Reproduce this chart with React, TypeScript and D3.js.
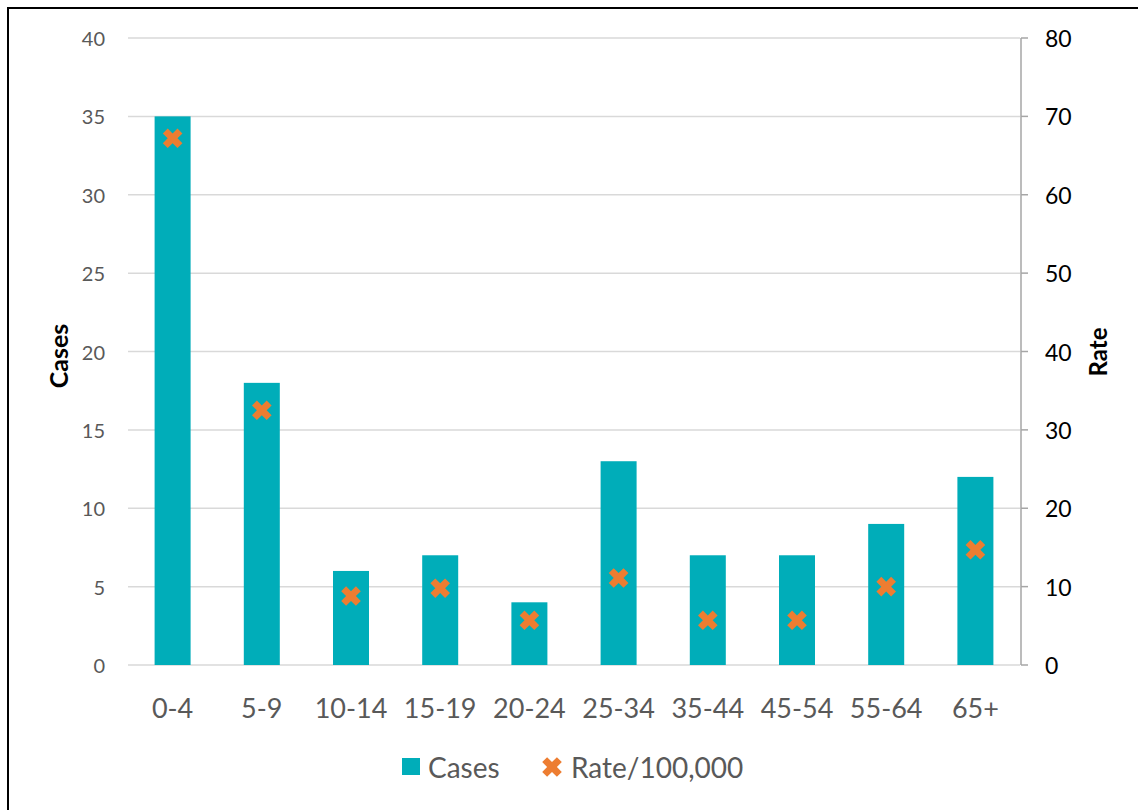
import React from "react";
import * as d3 from "d3";

const categories = ["0-4", "5-9", "10-14", "15-19", "20-24", "25-34", "35-44", "45-54", "55-64", "65+"];
const cases = [35, 18, 6, 7, 4, 13, 7, 7, 9, 12];
const rates = [67.2, 32.5, 8.8, 9.8, 5.7, 11.1, 5.7, 5.7, 10.0, 14.7];
const leftTicks = [0, 5, 10, 15, 20, 25, 30, 35, 40];
const rightTicks = [0, 10, 20, 30, 40, 50, 60, 70, 80];

const W = 1138;
const H = 810;
const plotL = 128;
const plotR = 1020;
const plotT = 38;
const plotB = 665;
const FONT = "Lato, 'Open Sans', sans-serif";
const TEAL = "#00ADB9";
const ORANGE = "#ED7D31";

export default function App() {
  const xc = d3.scaleBand<string>().domain(categories).range([plotL, plotR]);
  const yL = d3.scaleLinear().domain([0, 40]).range([plotB, plotT]);
  const yR = d3.scaleLinear().domain([0, 80]).range([plotB, plotT]);
  const marker = d3.symbol().type(d3.symbolCross).size(240)() as string;
  const bw = 36;

  return (
    <svg width={W} height={H} style={{ position: "absolute", left: 0, top: 0, background: "#fff" }}>
      <rect x={8} y={8} width={1300} height={1000} fill="#fff" stroke="#000" strokeWidth={2} />
      {leftTicks.map((t) => (
        <g key={"g" + t}>
          <line x1={plotL} x2={plotR} y1={yL(t)} y2={yL(t)} stroke="#d9d9d9" strokeWidth={1.5} />
          <text x={105} y={yL(t)} textAnchor="end" dominantBaseline="central" fontFamily={FONT} fontSize={20} fill="#595959">
            {t}
          </text>
        </g>
      ))}
      <line x1={1021} x2={1021} y1={plotT} y2={plotB} stroke="#a6a6a6" strokeWidth={1.5} />
      {rightTicks.map((t) => (
        <g key={"r" + t}>
          <line x1={1021} x2={1028} y1={yR(t)} y2={yR(t)} stroke="#a6a6a6" strokeWidth={1.5} />
          <text x={1045} y={yR(t)} textAnchor="start" dominantBaseline="central" fontFamily={FONT} fontSize={23} fill="#000">
            {t}
          </text>
        </g>
      ))}
      {categories.map((c, i) => {
        const cx = (xc(c) as number) + xc.bandwidth() / 2;
        return (
          <g key={c}>
            <rect x={cx - bw / 2} y={yL(cases[i])} width={bw} height={plotB - yL(cases[i])} fill={TEAL} />
            <text x={cx} y={707} textAnchor="middle" dominantBaseline="central" fontFamily={FONT} fontSize={27} fill="#595959">
              {c}
            </text>
          </g>
        );
      })}
      {categories.map((c, i) => {
        const cx = (xc(c) as number) + xc.bandwidth() / 2;
        return <path key={"m" + c} d={marker} transform={`translate(${cx},${yR(rates[i])}) rotate(45)`} fill={ORANGE} />;
      })}
      <text transform="translate(58,356) rotate(-90)" textAnchor="middle" dominantBaseline="central" fontFamily={FONT} fontSize={25} fontWeight="bold" fill="#000">
        Cases
      </text>
      <text transform="translate(1097,352) rotate(-90)" textAnchor="middle" dominantBaseline="central" fontFamily={FONT} fontSize={24} fontWeight="bold" fill="#000">
        Rate
      </text>
      <rect x={402} y={758} width={18} height={17} fill={TEAL} />
      <text x={428} y={767} dominantBaseline="central" fontFamily={FONT} fontSize={28} fill="#595959">
        Cases
      </text>
      <path d={marker} transform="translate(552,767) rotate(45)" fill={ORANGE} />
      <text x={571} y={767} dominantBaseline="central" fontFamily={FONT} fontSize={28} fill="#595959">
        Rate/100,000
      </text>
    </svg>
  );
}
